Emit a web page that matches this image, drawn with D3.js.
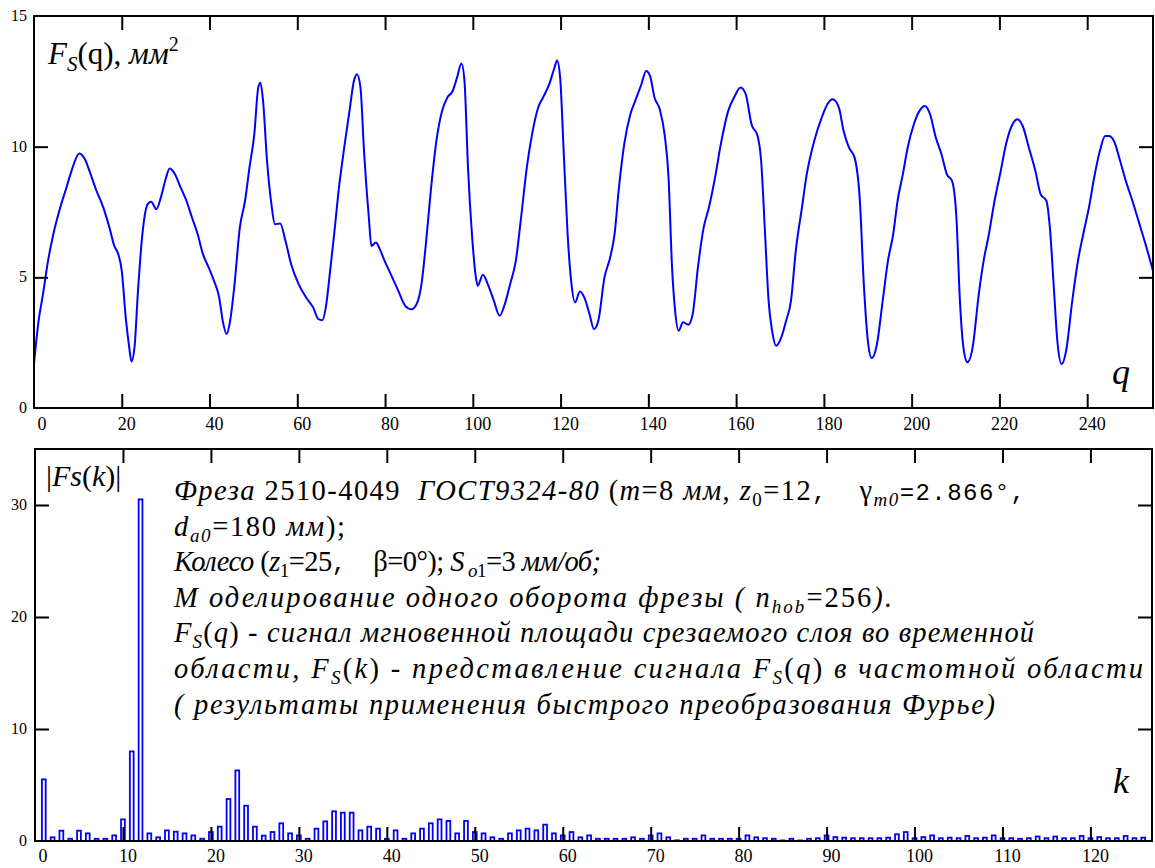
<!DOCTYPE html>
<html><head><meta charset="utf-8">
<script src="https://cdn.jsdelivr.net/npm/d3@7"></script>
<style>body{margin:0;background:#fff}svg{display:block}</style>
</head><body>
<svg id="c" width="1155" height="868"></svg>
<script>
// ---- Data: time-domain signal F_S(q) ----
const qValues = [0,1.05,2.05,3.2,4.4,5.75,7.4,8.8,10.3,11.6,12.8,14.1,15.8,17.2,18.3,19.2,20.0,20.9,21.7,22.2,22.9,23.7,24.7,25.9,26.7,27.9,28.9,30.1,30.9,32.1,33.4,34.6,36.0,37.3,38.5,39.8,41.0,42.2,43.0,43.9,44.7,45.7,46.9,48.1,49.1,50.2,51.1,51.6,52.2,53.1,54.1,54.9,56.1,57.3,58.6,60.3,62.0,63.6,64.8,65.7,66.5,67.4,68.4,69.5,70.7,71.9,72.9,73.6,74.4,75.2,76.3,76.9,77.9,78.8,79.9,81.3,83.0,84.6,86.0,87.2,88.3,89.3,90.5,91.7,93.0,94.2,95.4,96.4,97.4,98.1,98.9,99.8,100.7,101.1,102.3,103.4,104.8,106.1,107.3,108.5,109.8,111.0,112.3,113.5,114.9,116.0,117.4,118.6,119.2,119.9,120.7,121.6,122.4,123.3,124.4,125.4,126.6,127.6,128.6,130.0,131.3,132.3,133.3,134.5,135.9,137.0,138.4,139.5,140.4,141.4,142.6,143.7,144.6,145.4,146.1,146.9,147.9,149.1,150.1,151.3,152.6,153.8,155.2,156.5,158.2,159.7,161.0,162.2,163.5,164.9,165.7,166.6,167.4,168.2,169.1,170.3,171.4,172.5,173.6,175.0,176.1,177.8,179.5,180.8,182.0,183.4,184.5,185.7,187.0,188.2,189.1,190.1,190.9,192.1,193.4,194.6,195.8,196.8,198.0,199.1,200.5,201.8,203.0,204.2,205.5,206.8,208.0,209.2,210.2,211.0,211.9,212.7,213.9,215.3,216.4,217.6,218.9,220.3,221.5,222.8,224.1,225.3,226.7,228.2,229.4,230.7,231.5,232.4,233.2,234.2,235.2,236.6,237.9,239.1,240.4,241.6,242.9,244.1,244.9,246.1,247.5,248.8,250.3,251.7,253.3,255.0];
const fsValues = [1.7,3.34,4.36,5.63,6.65,7.54,8.44,9.2,9.74,9.52,9.0,8.37,7.67,6.9,6.2,5.89,5.25,3.47,2.32,1.78,2.32,4.49,6.65,7.8,7.89,7.61,8.05,8.82,9.16,8.95,8.44,7.99,7.29,6.65,5.89,5.38,4.87,4.23,3.34,2.83,3.34,4.74,6.9,7.93,9.2,10.47,12.26,12.45,11.75,9.46,7.8,7.03,7.06,6.4,5.5,4.74,4.23,3.85,3.4,3.36,3.85,5.12,6.65,8.44,9.97,11.37,12.51,12.77,12.26,9.84,7.29,6.2,6.33,6.08,5.63,5.12,4.49,3.91,3.78,3.98,4.74,6.27,8.44,10.22,11.37,11.88,12.13,12.64,13.18,12.51,9.2,6.65,5.0,4.68,5.1,4.74,4.1,3.53,3.98,4.74,5.63,7.29,9.2,10.47,11.5,11.88,12.38,13.02,13.3,12.64,9.84,6.65,4.87,4.04,4.46,4.23,3.59,3.02,3.34,5.0,5.76,6.65,8.44,10.09,11.24,11.75,12.38,12.9,12.7,11.88,11.43,10.47,8.82,5.38,3.72,2.96,3.28,3.19,3.59,5.38,6.9,7.67,8.82,10.09,11.37,11.94,12.26,12.0,10.86,10.41,9.46,6.65,4.1,2.96,2.38,2.7,3.34,4.1,6.02,7.67,8.95,10.22,11.11,11.62,11.81,11.5,10.6,9.97,9.58,7.93,4.74,2.45,1.9,2.45,4.1,5.63,6.65,7.93,8.95,9.97,10.86,11.37,11.56,11.24,10.35,9.71,8.95,8.69,7.29,4.1,2.19,1.75,2.32,4.36,5.63,6.65,7.93,9.07,10.09,10.79,11.05,10.79,9.97,9.07,8.18,7.93,6.9,4.61,2.57,1.68,2.19,4.1,5.63,6.65,7.67,8.82,9.84,10.41,10.41,10.22,9.46,8.69,7.93,7.16,6.27,5.25];

// ---- Data: spectrum |Fs(k)| ----
const kValues = [1,2,3,4,5,6,7,8,9,10,11,12,13,14,15,16,17,18,19,20,21,22,23,24,25,26,27,28,29,30,31,32,33,34,35,36,37,38,39,40,41,42,43,44,45,46,47,48,49,50,51,52,53,54,55,56,57,58,59,60,61,62,63,64,65,66,67,68,69,70,71,72,73,74,75,76,77,78,79,80,81,82,83,84,85,86,87,88,89,90,91,92,93,94,95,96,97,98,99,100,101,102,103,104,105,106,107,108,109,110,111,112,113,114,115,116,117,118,119,120,121,122,123,124,125,126];
const fkValues = [5.5,0.33,0.92,0.2,0.92,0.68,0.2,0.2,0.5,1.93,8.0,30.5,0.68,0.33,0.95,0.83,0.68,0.5,0.2,0.8,1.28,3.75,6.3,3.15,1.28,0.48,0.8,1.58,0.68,0.5,0.2,1.1,1.75,2.65,2.53,2.53,0.95,1.28,1.1,0.2,0.95,0.2,0.68,1.1,1.58,1.93,1.79,0.68,1.79,0.8,0.68,0.33,0.2,0.68,0.95,1.1,0.95,1.46,0.68,0.5,0.8,0.33,0.5,0.2,0.2,0.2,0.2,0.33,0.2,0.5,0.68,0.33,0.06,0.2,0.2,0.5,0.2,0.2,0.2,0.2,0.5,0.33,0.25,0.2,0.05,0.2,0.05,0.2,0.25,0.5,0.35,0.3,0.25,0.25,0.25,0.25,0.3,0.6,0.8,0.25,0.35,0.5,0.25,0.3,0.25,0.45,0.25,0.3,0.5,0.25,0.25,0.2,0.25,0.4,0.25,0.4,0.25,0.25,0.45,0.25,0.35,0.25,0.25,0.45,0.25,0.3];

// ---- Tick labels ----
const qTicks = [0,20,40,60,80,100,120,140,160,180,200,220,240];
const fsTicks = [0,5,10,15];
const kTicks = [0,10,20,30,40,50,60,70,80,90,100,110,120];
const fkTicks = [0,10,20,30];

const SERIF = '"Liberation Serif"';
const MONO = '"Liberation Mono"';
const svg = d3.select("#c");
const BLUE = "#0000ff";

// ---------- Top chart ----------
const x1 = d3.scaleLinear().domain([0,255]).range([34,1153]);
const y1 = d3.scaleLinear().domain([0,15]).range([408,16]);

const line = d3.line().x(d=>x1(d[0])).y(d=>y1(d[1])).curve(d3.curveMonotoneX);
svg.append("path").datum(qValues.map((q,i)=>[q,fsValues[i]]))
  .attr("d",line).attr("fill","none").attr("stroke",BLUE).attr("stroke-width",2).attr("stroke-linejoin","round");

function frame(x, y, tl, xt, yt, tickLen){
  const g = svg.append("g");
  g.append("g").attr("transform",`translate(0,${y.range()[0]})`)
    .call(d3.axisBottom(x).tickValues(xt.filter(v=>v>0)).tickSize(-tickLen).tickSizeOuter(0).tickFormat(""));
  g.append("g").attr("transform",`translate(0,${y.range()[1]})`)
    .call(d3.axisTop(x).tickValues(xt.filter(v=>v>0)).tickSize(-tickLen).tickSizeOuter(0).tickFormat(""));
  const inner = yt.filter(v=>v>y.domain()[0] && v<y.domain()[1]);
  g.append("g").attr("transform",`translate(${x.range()[0]},0)`)
    .call(d3.axisLeft(y).tickValues(inner).tickSize(-tickLen).tickSizeOuter(0).tickFormat(""));
  g.append("g").attr("transform",`translate(${x.range()[1]},0)`)
    .call(d3.axisRight(y).tickValues(inner).tickSize(-tickLen).tickSizeOuter(0).tickFormat(""));
  g.selectAll("path.domain").remove();
  g.selectAll("line").attr("stroke","#000").attr("stroke-width",2);
  g.append("rect").attr("x",x.range()[0]).attr("y",y.range()[1])
    .attr("width",x.range()[1]-x.range()[0]).attr("height",y.range()[0]-y.range()[1])
    .attr("fill","none").attr("stroke","#000").attr("stroke-width",2);
  g.selectAll("text.xl").data(xt).enter().append("text")
    .attr("x",d=>x(d)+(d===0?8:5)).attr("y",tl).attr("text-anchor","middle")
    .style("font-family",SERIF).attr("font-size",18).text(d=>d);
  g.selectAll("text.yl").data(yt).enter().append("text")
    .attr("x",27).attr("y",d=>y(d)+5).attr("text-anchor","end")
    .style("font-family",SERIF).attr("font-size",16).text(d=>d);
}
frame(x1,y1,430,qTicks,fsTicks,14);

// top chart labels
const tl = svg.append("text").attr("x",48).attr("y",64).style("font-family",SERIF).attr("font-size",31);
tl.append("tspan").attr("font-style","italic").text("F");
tl.append("tspan").attr("font-style","italic").attr("font-size",21).attr("dy",7).text("S");
tl.append("tspan").attr("dy",-7).text("(q), ");
tl.append("tspan").attr("font-style","italic").text("мм");
tl.append("tspan").attr("font-size",20).attr("dy",-13).text("2");
svg.append("text").attr("x",1112).attr("y",384).style("font-family",SERIF).attr("font-size",36)
  .attr("font-style","italic").text("q");

// ---------- Bottom chart ----------
const x2 = d3.scaleLinear().domain([0,127]).range([35,1152]);
const y2 = d3.scaleLinear().domain([0,35]).range([841,449]);
const bw = 3.8;
svg.append("g").selectAll("rect").data(kValues.map((k,i)=>[k,fkValues[i]])).enter().append("rect")
  .attr("x",d=>x2(d[0])-bw/2).attr("y",d=>y2(d[1]))
  .attr("width",bw).attr("height",d=>y2(0)-y2(d[1]))
  .attr("fill","#fff").attr("stroke",BLUE).attr("stroke-width",1.8);
frame(x2,y2,862,kTicks,fkTicks,14);

const bl = svg.append("text").attr("x",46).attr("y",486).style("font-family",SERIF).attr("font-size",30);
bl.append("tspan").text("|");
bl.append("tspan").attr("font-style","italic").text("Fs");
bl.append("tspan").text("(");
bl.append("tspan").attr("font-style","italic").text("k");
bl.append("tspan").text(")|");
svg.append("text").attr("x",1113).attr("y",793).style("font-family",SERIF).attr("font-size",36)
  .attr("font-style","italic").text("k");

// ---------- Text block ----------
const I="i", R="r", SB="sb", SBI="sbi", M="m";
const textLines = [
  {w:851, segs:[[I,"Фреза"],[R," 2510-4049  "],[I,"ГОСТ9324-80"],[R," ("],[I,"m"],[R,"=8 "],[I,"мм"],[R,", "],[I,"z"],[SB,"0"],[R,"=12"],[M,",  "],[R,"γ"],[SBI,"m0"],[M,"=2.866°,"]]},
  {w:171, segs:[[I,"d"],[SBI,"a0"],[R,"=180 "],[I,"мм"],[R,");"]]},
  {w:428, segs:[[I,"Колесо"],[R," ("],[I,"z"],[SB,"1"],[R,"=25"],[M,",  "],[R,"β=0°); "],[I,"S"],[SBI," o"],[SB,"1"],[R,"=3 "],[I,"мм/об;"]]},
  {w:719, segs:[[I,"М оделирование одного оборота фрезы ( "],[I,"n"],[SBI,"hob"],[R,"=256"],[I,")."]]},
  {w:861, segs:[[I,"F"],[SBI,"S"],[R,"("],[I,"q"],[R,")"],[I," - сигнал мгновенной площади срезаемого слоя во временной"]]},
  {w:969, segs:[[I,"области, F"],[SBI,"S"],[R,"("],[I,"k"],[R,")"],[I," - представление сигнала F"],[SBI,"S"],[R,"("],[I,"q"],[R,")"],[I," в частотной области"]]},
  {w:821, segs:[[I,"( результаты применения быстрого преобразования Фурье)"]]}
];
textLines.forEach((ln,li)=>{
  const base = 500 + li*35.6;
  const t = svg.append("text").attr("x",174).attr("y",base).style("font-family",SERIF).attr("font-size",28.5).attr("xml:space","preserve").style("white-space","pre");
  let off = 0, n = 0;
  ln.segs.forEach(([st,tx])=>{
    const ts = t.append("tspan").text(tx);
    n += tx.length;
    const isSub = (st===SB||st===SBI);
    const want = isSub?6:0;
    if (want!==off){ ts.attr("dy",want-off); off=want; }
    if (st===I||st===SBI) ts.attr("font-style","italic");
    if (isSub) ts.attr("font-size",19);
    if (st===M) ts.style("font-family",MONO).attr("font-size",24);
  });
  const w0 = t.node().getBBox().width;
  const ls = (ln.w - w0)/Math.max(1,n-1);
  t.style("letter-spacing", ls.toFixed(3)+"px");
});
</script>
</body></html>
